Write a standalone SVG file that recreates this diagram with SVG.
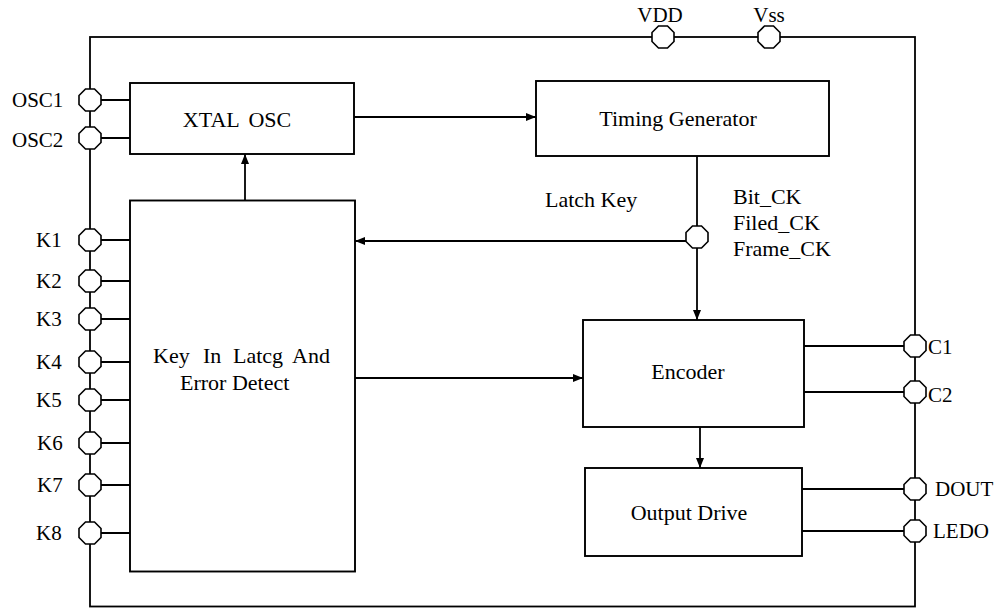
<svg xmlns="http://www.w3.org/2000/svg" width="998" height="609" viewBox="0 0 998 609">
<style>
.ln{stroke:#000;stroke-width:1.8;fill:none}
.box{stroke:#000;stroke-width:1.9;fill:#fff}
.pin{stroke:#000;stroke-width:1.6;fill:#fff}
text{font-family:"Liberation Serif","Times New Roman",serif;fill:#000}
.t{font-size:22px}
.p{font-size:21px}
</style>
<defs>
<polygon id="oct" points="-4.5,-11 4.5,-11 11,-4.5 11,4.5 4.5,11 -4.5,11 -11,4.5 -11,-4.5"/>
<marker id="ah" markerWidth="10" markerHeight="8" refX="10" refY="4" orient="auto" markerUnits="userSpaceOnUse">
<path d="M0,0 L10,4 L0,8 Z" fill="#000"/>
</marker>
</defs>
<g id="frame"><rect class="ln" x="90" y="37" width="825" height="569.5"/></g>
<g id="connectors">
<line class="ln" x1="90" y1="100" x2="130" y2="100"/>
<line class="ln" x1="90" y1="138" x2="130" y2="138"/>
<line class="ln" x1="90" y1="240" x2="130" y2="240"/>
<line class="ln" x1="90" y1="281" x2="130" y2="281"/>
<line class="ln" x1="90" y1="319" x2="130" y2="319"/>
<line class="ln" x1="90" y1="362" x2="130" y2="362"/>
<line class="ln" x1="90" y1="400" x2="130" y2="400"/>
<line class="ln" x1="90" y1="443" x2="130" y2="443"/>
<line class="ln" x1="90" y1="485" x2="130" y2="485"/>
<line class="ln" x1="90" y1="533" x2="130" y2="533"/>
<line class="ln" x1="354" y1="117" x2="536" y2="117" marker-end="url(#ah)"/>
<line class="ln" x1="245" y1="200" x2="245" y2="154" marker-end="url(#ah)"/>
<line class="ln" x1="697" y1="156" x2="697" y2="226"/>
<line class="ln" x1="697" y1="248" x2="697" y2="320" marker-end="url(#ah)"/>
<line class="ln" x1="686" y1="241" x2="355" y2="241" marker-end="url(#ah)"/>
<line class="ln" x1="355" y1="378" x2="583" y2="378" marker-end="url(#ah)"/>
<line class="ln" x1="700" y1="427" x2="700" y2="468" marker-end="url(#ah)"/>
<line class="ln" x1="804" y1="346" x2="915" y2="346"/>
<line class="ln" x1="804" y1="392" x2="915" y2="392"/>
<line class="ln" x1="802" y1="489" x2="915" y2="489"/>
<line class="ln" x1="802" y1="531" x2="915" y2="531"/>
</g>
<g id="xtal"><rect class="box" x="130" y="83" width="224" height="71"/><text class="t" x="237" y="127" text-anchor="middle" word-spacing="4">XTAL OSC</text></g>
<g id="timing"><rect class="box" x="536" y="81" width="293" height="75"/><text class="t" x="678" y="126" text-anchor="middle">Timing Generator</text></g>
<g id="keyin"><rect class="box" x="130" y="200.5" width="225" height="371"/><text class="t" y="363"><tspan x="153">Key</tspan><tspan x="203">In</tspan><tspan x="233">Latcg</tspan><tspan x="292">And</tspan></text><text class="t" x="180" y="390">Error Detect</text></g>
<g id="encoder"><rect class="box" x="583" y="320" width="221" height="107"/><text class="t" x="688" y="379" text-anchor="middle">Encoder</text></g>
<g id="output"><rect class="box" x="585" y="468" width="217" height="88"/><text class="t" x="689" y="520" text-anchor="middle">Output Drive</text></g>
<g id="pin-osc1"><use href="#oct" class="pin" x="90" y="100"/><text class="p" x="12" y="107">OSC1</text></g>
<g id="pin-osc2"><use href="#oct" class="pin" x="90" y="138"/><text class="p" x="12" y="147">OSC2</text></g>
<g id="pin-k1"><use href="#oct" class="pin" x="90" y="240"/><text class="p" x="36" y="247">K1</text></g>
<g id="pin-k2"><use href="#oct" class="pin" x="90" y="281"/><text class="p" x="36" y="288">K2</text></g>
<g id="pin-k3"><use href="#oct" class="pin" x="90" y="319"/><text class="p" x="36" y="326">K3</text></g>
<g id="pin-k4"><use href="#oct" class="pin" x="90" y="362"/><text class="p" x="36" y="369">K4</text></g>
<g id="pin-k5"><use href="#oct" class="pin" x="90" y="400"/><text class="p" x="36" y="407">K5</text></g>
<g id="pin-k6"><use href="#oct" class="pin" x="90" y="443"/><text class="p" x="37" y="450">K6</text></g>
<g id="pin-k7"><use href="#oct" class="pin" x="90" y="485"/><text class="p" x="37" y="492">K7</text></g>
<g id="pin-k8"><use href="#oct" class="pin" x="90" y="533"/><text class="p" x="36" y="540">K8</text></g>
<g id="pin-vdd"><use href="#oct" class="pin" x="663" y="37"/><text class="p" x="660" y="22" text-anchor="middle">VDD</text></g>
<g id="pin-vss"><use href="#oct" class="pin" x="769" y="37"/><text class="p" x="769" y="22" text-anchor="middle">Vss</text></g>
<g id="pin-clk"><use href="#oct" class="pin" x="697" y="237"/><text class="t" x="545" y="207">Latch Key</text><text class="t" x="733" y="204">Bit_CK</text><text class="t" x="733" y="230">Filed_CK</text><text class="t" x="733" y="256">Frame_CK</text></g>
<g id="pin-c1"><use href="#oct" class="pin" x="915" y="346"/><text class="p" x="928" y="354">C1</text></g>
<g id="pin-c2"><use href="#oct" class="pin" x="915" y="392"/><text class="p" x="928" y="402">C2</text></g>
<g id="pin-dout"><use href="#oct" class="pin" x="915" y="489"/><text class="p" x="935" y="496">DOUT</text></g>
<g id="pin-ledo"><use href="#oct" class="pin" x="915" y="531"/><text class="p" x="933" y="538">LEDO</text></g>
</svg>
